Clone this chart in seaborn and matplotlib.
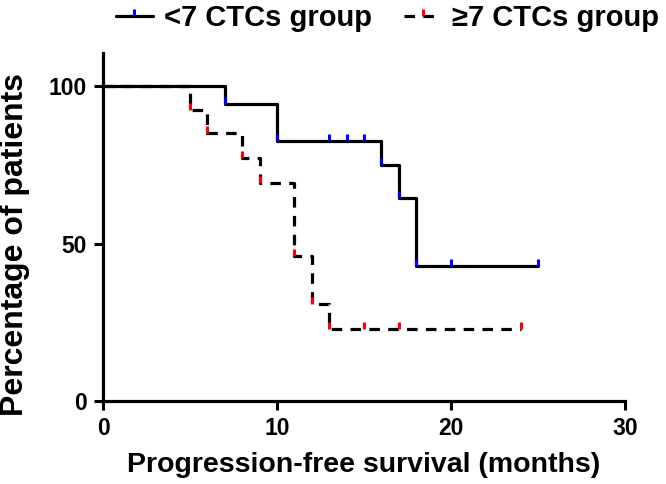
import matplotlib
matplotlib.use("Agg")
import matplotlib.pyplot as plt
from matplotlib.path import Path
from matplotlib.lines import Line2D
import seaborn as sns
import pandas as pd

# Kaplan-Meier step values (time in months, survival in %)
low_times = [0, 7, 10, 16, 17, 18, 25]
low_surv = [100, 94.4, 82.6, 75, 64.5, 43, 43]
low_mark_t = [7, 10, 13, 14, 15, 16, 17, 18, 20, 25]
low_mark_s = [94.4, 82.6, 82.6, 82.6, 82.6, 75, 64.5, 43, 43, 43]

high_times = [0, 5, 6, 8, 9, 11, 12, 13, 24]
high_surv = [100, 92.5, 85, 77, 69.3, 46, 30.8, 23, 23]
high_mark_t = [5, 6, 8, 9, 11, 12, 13, 15, 17, 24]
high_mark_s = [92.5, 85, 77, 69.3, 46, 30.8, 23, 23, 23, 23]

labels = ["<7 CTCs group", "\u22657 CTCs group"]
x_ticks = [0, 10, 20, 30]
y_ticks = [0, 50, 100]

sns.set_style("ticks", {'axes.edgecolor': 'black', 'text.color': 'black',
                        'xtick.color': 'black', 'ytick.color': 'black',
                        'axes.labelcolor': 'black'})
plt.rcParams['font.family'] = ['Liberation Sans', 'DejaVu Sans']
plt.rcParams['font.weight'] = 'bold'

# small vertical tick used as the censor / event mark (points upward)
tick = Path([(0, 0), (0, 1)], [Path.MOVETO, Path.LINETO])
dash = (0, (3.3, 2.6))

fig = plt.figure(figsize=(6.66, 4.84), dpi=100)
ax = fig.add_axes([0.1547, 0.1715, 0.7837, 0.719])

low = pd.DataFrame({'t': low_times, 's': low_surv})
high = pd.DataFrame({'t': high_times, 's': high_surv})

sns.lineplot(data=low, x='t', y='s', ax=ax, drawstyle='steps-post', color='black',
             linewidth=2.3, estimator=None, sort=False)
sns.lineplot(data=high, x='t', y='s', ax=ax, drawstyle='steps-post', color='black',
             linewidth=2.3, linestyle=dash, estimator=None, sort=False)

ax.plot(low_mark_t, low_mark_s, linestyle='none', marker=tick, markersize=10,
        markeredgewidth=2.2, color='blue', zorder=5)
ax.plot(high_mark_t, high_mark_s, linestyle='none', marker=tick, markersize=10,
        markeredgewidth=2.2, color='red', zorder=5)

ax.set_xlim(0, 30)
ax.set_ylim(0, 110.5)
ax.set_xticks(x_ticks)
ax.set_yticks(y_ticks)
ax.tick_params(width=2.2, length=6.5, labelsize=16.5, pad=5, colors='black')
for lab in ax.get_xticklabels() + ax.get_yticklabels():
    lab.set_fontweight('bold')
for side in ['left', 'bottom']:
    ax.spines[side].set_linewidth(2.3)
sns.despine(ax=ax)

ax.set_xlabel("Progression-free survival (months)", fontsize=20.5, fontweight='bold', labelpad=9)
ax.set_ylabel("Percentage of patients", fontsize=23, fontweight='bold')
ax.yaxis.set_label_coords(-0.14, 0.45)

handles = [
    Line2D([], [], color='black', linewidth=2.3, marker=tick, markersize=10,
           markeredgewidth=2.2, markeredgecolor='blue'),
    Line2D([], [], color='black', linewidth=2.3, linestyle=dash, marker=tick, markersize=10,
           markeredgewidth=2.2, markeredgecolor='red'),
]
fig.legend(handles, labels, loc='upper center', bbox_to_anchor=(0.582, 1.045), ncol=2,
           frameon=False, handlelength=1.27, handletextpad=0.38,
           columnspacing=1.1, numpoints=1, prop={'weight': 'bold', 'size': 21})

fig.savefig("out.png", dpi=100)
